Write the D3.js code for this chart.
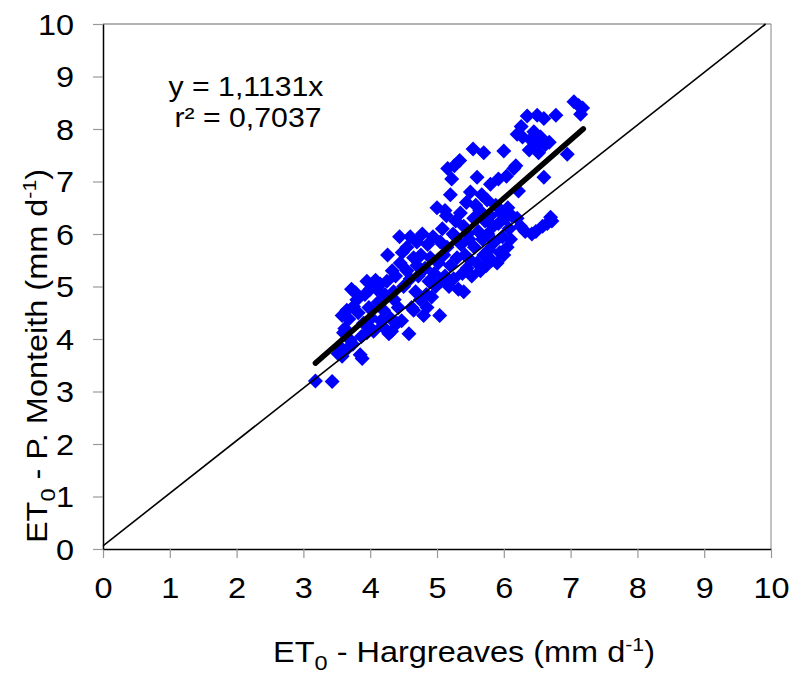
<!DOCTYPE html>
<html>
<head>
<meta charset="utf-8">
<script src="https://cdn.jsdelivr.net/npm/d3@7"></script>
<style>
  body { margin: 0; background: #fff; }
  text { font-family: "Liberation Sans", Arial, sans-serif; }
</style>
</head>
<body>
<svg id="chart"></svg>
<script>
// ET0 Hargreaves (x) vs ET0 Penman-Monteith (y), mm/day
const hargreaves = [
  3.18,3.43,3.52,3.58,3.55,3.60,3.62,3.58,3.65,3.68,3.70,3.74,3.63,
  3.72,3.78,3.75,3.80,3.82,3.85,3.88,3.90,3.92,3.95,3.98,3.95,3.87,4.00,4.02,4.05,3.97,
  4.08,4.12,4.15,4.18,4.20,4.22,4.25,4.26,4.28,4.30,4.32,4.33,4.35,4.38,4.40,4.42,4.44,4.45,4.47,4.50,4.48,4.36,4.16,4.10,
  4.55,4.58,4.60,4.62,4.65,4.68,4.70,4.72,4.75,4.76,4.78,4.80,4.82,4.84,4.86,4.88,4.90,4.92,4.94,4.96,4.98,4.60,4.65,4.70,4.85,4.55,
  5.00,5.02,5.04,5.05,5.06,5.08,5.10,5.12,5.14,5.15,5.16,5.18,5.20,5.20,5.22,5.24,5.25,5.26,5.28,5.30,5.32,5.34,5.35,5.36,5.38,5.40,5.40,5.42,5.44,5.45,5.46,5.48,5.50,5.50,5.12,5.28,
  5.52,5.54,5.55,5.56,5.58,5.60,5.60,5.62,5.64,5.65,5.67,5.68,5.70,5.70,5.72,5.74,5.75,5.76,5.78,5.80,5.80,5.82,5.84,5.86,5.88,5.90,5.92,5.92,5.94,5.96,5.98,6.00,6.00,
  6.02,6.04,6.05,6.06,6.08,6.10,6.12,6.15,6.18,6.20,6.22,6.25,6.20,6.26,6.28,
  6.32,6.35,6.38,6.40,6.42,6.45,6.48,6.50,6.50,6.52,6.55,6.58,6.60,6.60,6.62,6.65,6.68,6.70,6.72,6.78,
  6.95,7.05,7.12,7.15,7.18
];
const monteith = [
  3.20,3.19,3.72,3.67,3.85,4.12,4.20,4.45,4.55,4.38,3.98,3.90,3.78,
  4.95,4.88,4.62,4.75,4.50,3.70,3.63,4.30,4.85,5.10,4.60,4.12,4.05,4.95,4.40,4.15,4.25,
  5.12,4.70,5.05,4.25,4.55,4.85,5.10,5.60,4.10,4.40,4.15,5.30,4.90,5.20,4.30,4.60,5.95,5.45,4.35,5.00,5.65,4.75,4.35,4.95,
  5.30,4.10,5.95,4.60,5.55,4.90,5.85,5.20,4.75,5.60,6.00,4.45,5.35,4.85,5.80,5.10,5.55,4.80,5.95,5.25,5.00,5.15,4.55,5.40,4.60,5.75,
  6.50,5.45,4.45,5.85,5.10,6.10,5.60,5.20,6.35,5.75,7.25,5.00,6.75,5.40,7.05,6.00,5.15,7.30,6.25,5.55,4.95,7.40,6.40,5.80,5.25,4.90,6.15,5.60,6.60,5.35,6.00,5.90,6.80,5.50,6.45,5.95,
  5.20,7.62,6.30,5.75,6.55,7.08,5.45,6.05,6.45,5.30,6.75,5.90,7.55,5.60,6.25,5.40,6.65,6.00,5.70,6.95,6.35,5.50,6.15,5.85,6.55,5.45,7.05,6.20,5.65,6.40,5.95,7.58,5.60,
  6.30,7.10,5.75,6.50,6.10,5.90,6.35,7.25,7.30,6.30,6.82,6.15,7.90,8.05,7.85,
  6.05,8.25,7.60,7.80,6.00,7.95,6.05,8.26,7.70,7.55,7.85,6.15,8.20,7.08,7.70,6.20,7.75,6.32,6.25,8.26,
  7.52,8.52,8.45,8.28,8.40
];
const slope = 1.1131;
const fitRange = [3.18, 7.19];
const oneToOne = [[0, 0.06], [9.92, 10]];
const ticks = [0, 1, 2, 3, 4, 5, 6, 7, 8, 9, 10];

const width = 793, height = 675;
const margin = { top: 24, right: 22, bottom: 126, left: 103 };
const stretch = 1.12; // text in the original is a bit wide

const svg = d3.select("#chart").attr("width", width).attr("height", height);

const x = d3.scaleLinear().domain([0, 10]).range([margin.left, width - margin.right]);
const y = d3.scaleLinear().domain([0, 10]).range([height - margin.bottom, margin.top]);

// frame (top and right)
svg.append("line")
  .attr("x1", x(0)).attr("x2", x(10)).attr("y1", y(10)).attr("y2", y(10))
  .attr("stroke", "#666").attr("stroke-width", 1.2);
svg.append("line")
  .attr("x1", x(10)).attr("x2", x(10)).attr("y1", y(10)).attr("y2", y(0))
  .attr("stroke", "#999").attr("stroke-width", 1.2);

// axes
const xAxis = svg.append("g")
  .attr("transform", `translate(0,${y(0)})`)
  .call(d3.axisBottom(x).tickValues(ticks).tickSize(9).tickPadding(19).tickSizeOuter(0));
const yAxis = svg.append("g")
  .attr("transform", `translate(${x(0)},0)`)
  .call(d3.axisLeft(y).tickValues(ticks).tickSize(10).tickPadding(19).tickSizeOuter(0));

[xAxis, yAxis].forEach(g => {
  g.select(".domain").attr("stroke", "#000").attr("stroke-width", 1.5);
  g.selectAll(".tick line").attr("stroke", "#999").attr("stroke-width", 1.2);
  g.selectAll(".tick text")
    .attr("fill", "#000")
    .attr("transform", `scale(${stretch},1)`)
    .style("font-size", "29px")
    .style("font-family", "'Liberation Sans', Arial, sans-serif");
});
xAxis.selectAll(".tick text").attr("dy", "0.71em");
yAxis.selectAll(".tick text").attr("dy", "0.36em").attr("x", -29 / stretch);

// points
const pts = hargreaves.map((h, i) => [h, monteith[i]]);
const r = 7.5;
svg.append("g")
  .selectAll("path")
  .data(pts)
  .join("path")
  .attr("d", d => `M${x(d[0])},${y(d[1]) - r}L${x(d[0]) + r},${y(d[1])}L${x(d[0])},${y(d[1]) + r}L${x(d[0]) - r},${y(d[1])}Z`)
  .attr("fill", "#0000ff");

// 1:1 line
const line = d3.line().x(d => x(d[0])).y(d => y(d[1]));
svg.append("path")
  .datum(oneToOne)
  .attr("d", line)
  .attr("fill", "none")
  .attr("stroke", "#000")
  .attr("stroke-width", 1.6);

// regression line
svg.append("path")
  .datum(fitRange.map(v => [v, v * slope]))
  .attr("d", line)
  .attr("fill", "none")
  .attr("stroke", "#000")
  .attr("stroke-width", 5.5)
  .attr("stroke-linecap", "round");

// equation
svg.append("text")
  .attr("transform", `translate(246,96) scale(${stretch},1)`)
  .attr("text-anchor", "middle")
  .style("font-size", "27px")
  .text("y = 1,1131x");
svg.append("text")
  .attr("transform", `translate(248,127) scale(${stretch},1)`)
  .attr("text-anchor", "middle")
  .style("font-size", "27px")
  .text("r² = 0,7037");

// axis titles
function title(sel, label) {
  sel.append("tspan").text("ET");
  sel.append("tspan").attr("dy", 8).style("font-size", "21px").text("0");
  sel.append("tspan").attr("dy", -8).text(" - " + label + " (mm d");
  sel.append("tspan").attr("dy", -11).style("font-size", "19px").text("-1");
  sel.append("tspan").attr("dy", 11).text(")");
}

const xt = svg.append("text")
  .attr("transform", `translate(464,662) scale(${stretch},1)`)
  .attr("text-anchor", "middle")
  .style("font-size", "29px");
title(xt, "Hargreaves");

const yt = svg.append("text")
  .attr("transform", `translate(47,356) rotate(-90) scale(${stretch},1)`)
  .attr("text-anchor", "middle")
  .style("font-size", "29px");
title(yt, "P. Monteith");
</script>
</body>
</html>
